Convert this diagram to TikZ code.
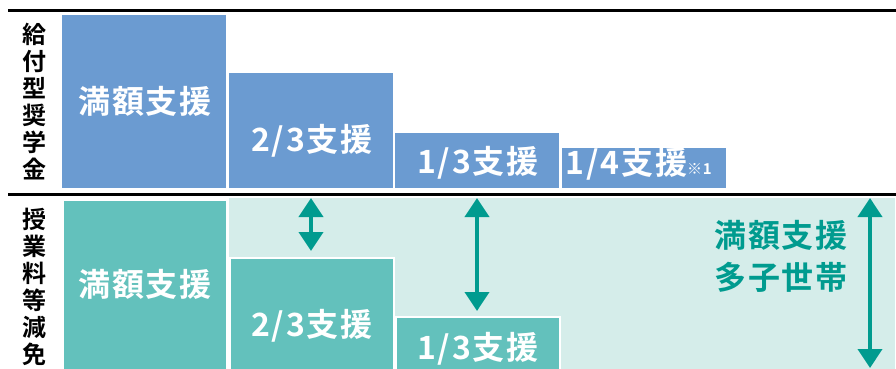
\documentclass[tikz,border=0pt]{standalone}
\usepackage{fontspec}
\usetikzlibrary{arrows.meta}
\newfontfamily\jp{Noto Sans CJK JP}[BoldFont=Noto Sans CJK JP Bold]
\newfontfamily\jpw{Noto Sans CJK JP Bold}[LetterSpace=6]
\definecolor{kyufu}{HTML}{6B9BD1}
\definecolor{genmen}{HTML}{63C1BC}
\definecolor{genmenbg}{HTML}{D5EDEA}
\definecolor{tasshi}{HTML}{009B8F}

\begin{document}
\begin{tikzpicture}[x=1pt,y=-1pt,font=\jp,
    kbox/.style={fill=kyufu, anchor=north west, inner sep=0pt},
    gbox/.style={fill=genmen, draw=white, line width=1.5pt, anchor=north west, inner sep=0pt},
    boxtext/.style={text=white, font=\jpw\fontsize{32}{32}\selectfont},
    rowhead/.style={align=center, font=\jp\bfseries\fontsize{24}{27}\selectfont},
    rule/.style={line width=2.5pt, black},
    gap/.style={{Triangle[width=24pt,length=19pt]}-{Triangle[width=24pt,length=19pt]}, line width=4pt, tasshi}]
        \useasboundingbox (0,0) rectangle (896,369);
        \def \boxbot {188}
        \def \boxw {164}

        % row 1
        \foreach \x/\y/\t/\ty [count=\n] in {62/15/{満額支援}/101, 229/73/{2/3支援}/141, 395/133/{1/3支援}/163}{
          \node[kbox, minimum width=\boxw, minimum height=\boxbot-\y] at (\x,\y) (k\n) {};
          \node[boxtext] at (\x+83,\ty) (kt\n) {\t};
        }
        \node[kbox, minimum width=\boxw, minimum height=\boxbot-148] at (562,148) (k4) {};
        \node[boxtext, anchor=west, inner sep=0pt] at (565,164) (kt4) {1/4支援{\fontsize{15}{15}\selectfont ※1}};

        % row 2
        \fill[genmenbg] (229,198) rectangle (895,369);
        \foreach \x/\y/\t/\ty [count=\n] in {62/199/{満額支援}/284, 229/257/{2/3支援}/326, 395/316/{1/3支援}/349}{
          \node[gbox, minimum width=\boxw, minimum height=372-\y] at (\x,\y) (g\n) {};
          \node[boxtext] at (\x+83,\ty) (gt\n) {\t};
        }

        \draw[rule] (8,10.5) -- (896,10.5);
        \draw[rule] (8,194.5) -- (896,194.5);

        \node[rowhead] at (35,102) (kh) {給\\付\\型\\奨\\学\\金};
        \node[rowhead] at (35,287) (gh) {授\\業\\料\\等\\減\\免};

        \coordinate (a1) at (311,198);
        \coordinate (b1) at (311,251);
        \coordinate (a2) at (477,198);
        \coordinate (b2) at (477,311);
        \coordinate (a3) at (870,198);
        \coordinate (b3) at (870,368);
        \foreach \i in {1,2,3}{
          \draw[gap] (a\i) -- (b\i);
        }
        \node[align=center, text=tasshi, font=\jpw\fontsize{32}{42}\selectfont] at (781,256) (tashi) {満額支援\\多子世帯};
\end{tikzpicture}
\end{document}
